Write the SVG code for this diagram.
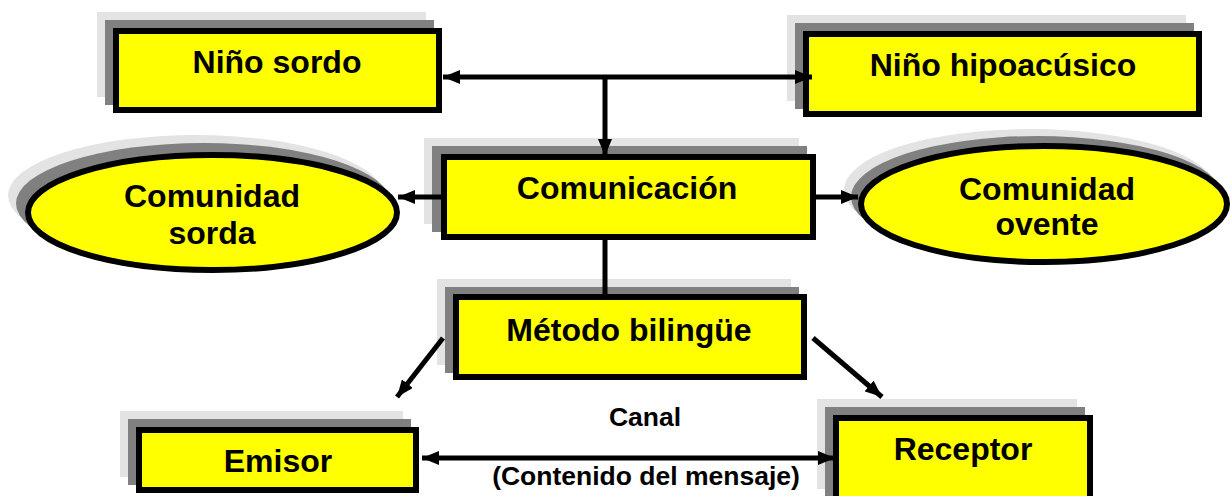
<svg xmlns="http://www.w3.org/2000/svg" width="1232" height="496" viewBox="0 0 1232 496">
<style>
.box{fill:#ffff00;stroke:#000;stroke-width:6}
.sh1{fill:#e3e3e3}
.sh2{fill:#808080}
.t{font-family:"Liberation Sans",Arial,sans-serif;font-weight:bold;font-size:32px;fill:#000;text-anchor:middle}
.s{font-size:26.5px}
.c{stroke:#000;stroke-width:5;fill:none}
</style>
<defs>
<marker id="ah" viewBox="0 0 17 14" refX="17" refY="7" markerWidth="17" markerHeight="14" markerUnits="userSpaceOnUse" orient="auto-start-reverse">
<path d="M0,0 L17,7 L0,14 z" fill="#000"/>
</marker>
</defs>
<rect width="1232" height="496" fill="#fff"/>
<g id="nino-sordo">
<rect class="sh1" x="97" y="12" width="329" height="85"/>
<rect class="sh2" x="105" y="20" width="329" height="85"/>
<rect class="box" x="116" y="31" width="323" height="79"/>
<text class="t" x="277" y="73">Niño sordo</text>
</g>
<g id="nino-hipoacusico">
<rect class="sh1" x="787" y="15" width="399" height="86"/>
<rect class="sh2" x="795" y="23" width="399" height="86"/>
<rect class="box" x="806" y="34" width="393" height="80"/>
<text class="t" x="1003" y="76">Niño hipoacúsico</text>
</g>
<g id="comunicacion">
<rect class="sh1" x="424" y="138" width="375" height="86"/>
<rect class="sh2" x="432" y="146" width="375" height="86"/>
<rect class="box" x="444" y="157" width="369" height="80"/>
<text class="t" x="627" y="199">Comunicación</text>
</g>
<g id="comunidad-sorda">
<ellipse class="sh1" cx="195.5" cy="195.5" rx="187.5" ry="60.5"/>
<ellipse class="sh2" cx="203.5" cy="203.5" rx="187.5" ry="60.5"/>
<ellipse class="box" cx="212.5" cy="212.5" rx="184.5" ry="57.5"/>
<text class="t" x="212" y="207">Comunidad</text>
<text class="t" x="212" y="244">sorda</text>
</g>
<g id="comunidad-oyente">
<ellipse class="sh1" cx="1030" cy="190" rx="186" ry="61"/>
<ellipse class="sh2" cx="1037" cy="197" rx="186" ry="61"/>
<ellipse class="box" cx="1044" cy="204" rx="183" ry="58"/>
<text class="t" x="1047" y="200">Comunidad</text>
<text class="t" x="1047" y="235">ovente</text>
</g>
<g id="metodo-bilingue">
<rect class="sh1" x="437" y="279" width="354" height="86"/>
<rect class="sh2" x="445" y="287" width="354" height="86"/>
<rect class="box" x="456" y="297" width="348" height="80"/>
<text class="t" x="629" y="341">Método bilingüe</text>
</g>
<g id="emisor">
<rect class="sh1" x="120" y="411" width="283" height="66"/>
<rect class="sh2" x="128" y="419" width="283" height="66"/>
<rect class="box" x="139" y="430" width="277" height="60"/>
<text class="t" x="278" y="472">Emisor</text>
</g>
<g id="receptor">
<rect class="sh1" x="817" y="399" width="260" height="90"/>
<rect class="sh2" x="825" y="407" width="260" height="90"/>
<rect class="box" x="836" y="418" width="254" height="90"/>
<text class="t" x="963" y="460">Receptor</text>
</g>
<g id="labels">
<text class="t s" x="645" y="426">Canal</text>
<text class="t s" x="646" y="485">(Contenido del mensaje)</text>
</g>
<g id="connectors">
<line class="c" x1="443" y1="77" x2="812" y2="77" marker-start="url(#ah)" marker-end="url(#ah)"/>
<line class="c" x1="605" y1="77" x2="605" y2="156" marker-end="url(#ah)"/>
<line class="c" x1="441" y1="197" x2="398" y2="197" marker-end="url(#ah)"/>
<line class="c" x1="816" y1="197" x2="858" y2="197" marker-end="url(#ah)"/>
<line class="c" x1="605" y1="240" x2="605" y2="295"/>
<line class="c" x1="443" y1="338" x2="397" y2="397" marker-end="url(#ah)"/>
<line class="c" x1="813" y1="338" x2="882" y2="397" marker-end="url(#ah)"/>
<line class="c" x1="422" y1="458" x2="835" y2="458" marker-start="url(#ah)" marker-end="url(#ah)"/>
</g>
</svg>
